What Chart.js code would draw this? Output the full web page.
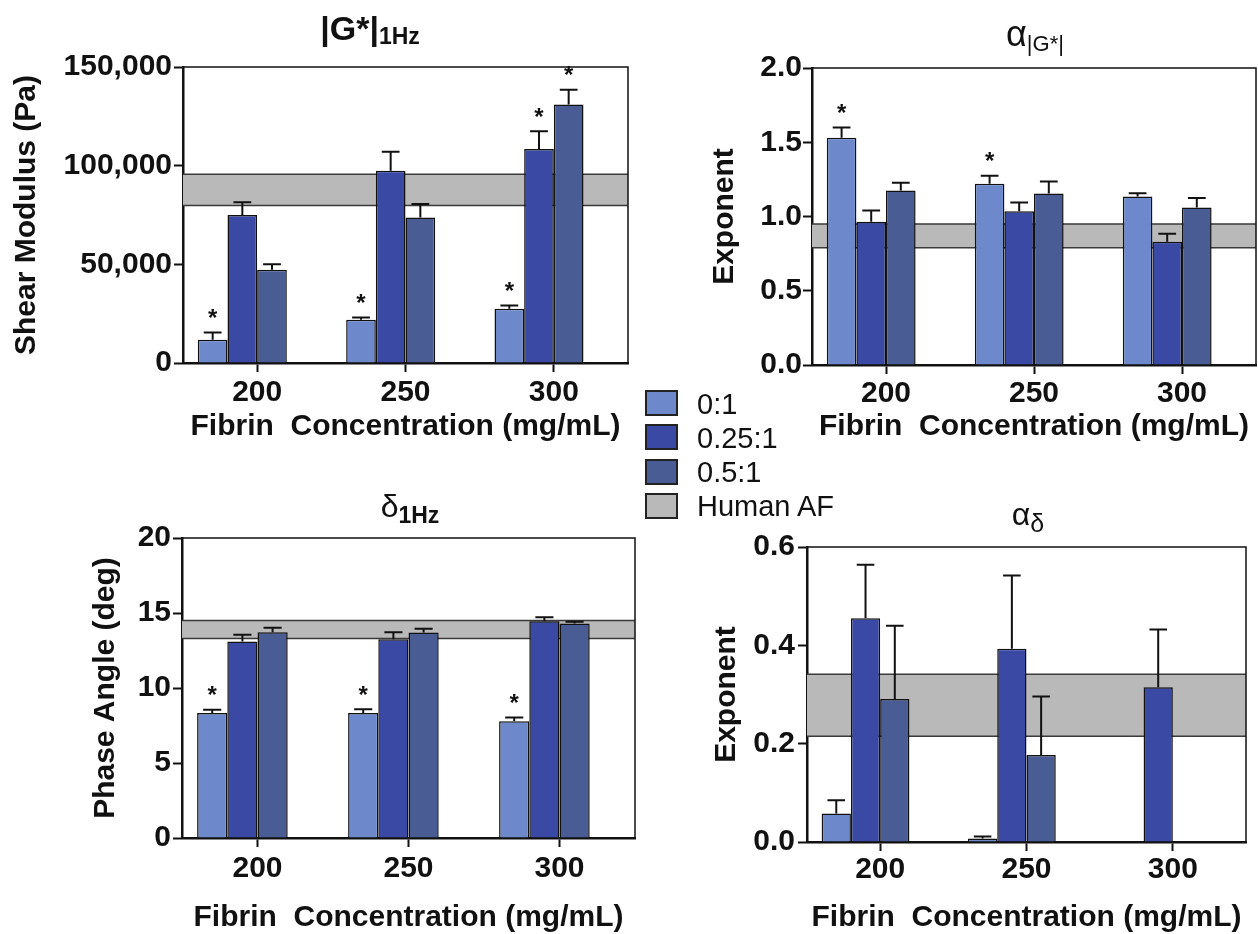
<!DOCTYPE html>
<html>
<head>
<meta charset="utf-8">
<title>Fibrin gels vs human AF</title>
<script src="https://cdn.jsdelivr.net/npm/chart.js@4.4.1/dist/chart.umd.min.js"></script>
<style>
  body { margin: 0; width: 1258px; height: 934px; position: relative; overflow: hidden; background: #fff;
         font-family: "Liberation Sans", Arial, Helvetica, sans-serif; color: #111; }
  canvas { position: absolute; }
  .ttl { position: absolute; width: 240px; text-align: center; line-height: 1; white-space: nowrap; }
  .ttl .sb { position: relative; }
  .sw { position: absolute; width: 29px; height: 22px; border: 2px solid #222; }
  .lt { position: absolute; font-size: 29px; line-height: 1; white-space: nowrap; }
</style>
</head>
<body>
<canvas id="cG" width="640" height="460" style="left:0;top:0"></canvas>
<canvas id="cA" width="618" height="460" style="left:640px;top:0"></canvas>
<canvas id="cD" width="640" height="474" style="left:0;top:460px"></canvas>
<canvas id="cAD" width="618" height="474" style="left:640px;top:460px"></canvas>

<div class="ttl" style="left:250px;top:11px;font-size:34px"><b>|G*|</b><b class="sb" style="top:4px;font-size:23px">1Hz</b></div>
<div class="ttl" style="left:915px;top:16px;font-size:36px">α<span class="sb" style="top:5px;font-size:22px">|G*|</span></div>
<div class="ttl" style="left:290px;top:490px;font-size:32px">δ<b class="sb" style="top:6px;font-size:23px">1Hz</b></div>
<div class="ttl" style="left:908px;top:498px;font-size:32px">α<span class="sb" style="top:7px;font-size:25px">δ</span></div>

<div id="legend"></div>

<script>
// ---- data ----
const categories = ['200', '250', '300'];
const seriesNames = ['0:1', '0.25:1', '0.5:1'];
const bandName = 'Human AF';
const xTitle = 'Fibrin  Concentration (mg/mL)';

// |G*| at 1 Hz, Pa
const gMean01 = [11800, 21900, 27500];
const gMean025 = [75000, 97400, 108400];
const gMean05 = [47200, 73700, 131000];
const gErr01 = [3700, 1200, 1700];
const gErr025 = [6400, 9600, 9100];
const gErr05 = [2900, 6900, 7500];
const gStar01 = [1, 1, 1];
const gStar025 = [0, 0, 1];
const gStar05 = [0, 0, 1];
const gBand = [79800, 95600];
const gAxis = [0, 150000, 50000];   // min, max, step

// alpha |G*| exponent
const aMean01 = [1.53, 1.22, 1.135];
const aMean025 = [0.965, 1.035, 0.83];
const aMean05 = [1.175, 1.155, 1.06];
const aErr01 = [0.07, 0.055, 0.022];
const aErr025 = [0.075, 0.06, 0.053];
const aErr05 = [0.052, 0.08, 0.065];
const aStar01 = [1, 1, 0];
const aStar025 = [0, 0, 0];
const aStar05 = [0, 0, 0];
const aBand = [0.79, 0.95];
const aAxis = [0, 2, 0.5];

// phase angle at 1 Hz, deg
const dMean01 = [8.33, 8.33, 7.78];
const dMean025 = [13.1, 13.25, 14.45];
const dMean05 = [13.72, 13.7, 14.3];
const dErr01 = [0.22, 0.25, 0.26];
const dErr025 = [0.45, 0.46, 0.27];
const dErr05 = [0.3, 0.25, 0.12];
const dStar01 = [1, 1, 1];
const dStar025 = [0, 0, 0];
const dStar05 = [0, 0, 0];
const dBand = [13.3, 14.5];
const dAxis = [0, 20, 5];

// alpha delta exponent
const adMean01 = [0.058, 0.007, 0];
const adMean025 = [0.455, 0.393, 0.315];
const adMean05 = [0.291, 0.177, 0];
const adErr01 = [0.027, 0.004, 0];
const adErr025 = [0.109, 0.149, 0.117];
const adErr05 = [0.149, 0.119, 0];
const adStar01 = [0, 0, 0];
const adStar025 = [0, 0, 0];
const adStar05 = [0, 0, 0];
const adBand = [0.215, 0.341];
const adAxis = [0, 0.6, 0.2];

// ---- style ----
const FONT = '"Liberation Sans", Arial, Helvetica, sans-serif';
const INK = '#111';
const barColors = ['#6d89cb', '#3a4aa4', '#4a5c94'];
const bandFill = '#b9b9b9';

// positions of each panel's plot box inside its canvas
const panels = [
  { id: 'cG', means: [gMean01, gMean025, gMean05], errs: [gErr01, gErr025, gErr05], stars: [gStar01, gStar025, gStar05],
    band: gBand, axis: gAxis, yTitle: 'Shear Modulus (Pa)', fmt: v => v.toLocaleString('en-US'),
    padTop: 67, padRight: 12, yW: 183, xH: 97, yTitlePad: 12, xTitlePad: 18, xTickPad: 3, yTickPad: 2 },
  { id: 'cA', means: [aMean01, aMean025, aMean05], errs: [aErr01, aErr025, aErr05], stars: [aStar01, aStar025, aStar05],
    band: aBand, axis: aAxis, yTitle: 'Exponent', fmt: v => v.toFixed(1),
    padTop: 68, padRight: 2, yW: 172, xH: 95, yTitlePad: 70, xTitlePad: 18, xTickPad: 2, yTickPad: 1 },
  { id: 'cD', means: [dMean01, dMean025, dMean05], errs: [dErr01, dErr025, dErr05], stars: [dStar01, dStar025, dStar05],
    band: dBand, axis: dAxis, yTitle: 'Phase Angle (deg)', fmt: v => String(v),
    padTop: 78, padRight: 5, yW: 182, xH: 96, yTitlePad: 91, xTitlePad: 1, xTickPad: 4, yTickPad: 2 },
  { id: 'cAD', means: [adMean01, adMean025, adMean05], errs: [adErr01, adErr025, adErr05], stars: [adStar01, adStar025, adStar05],
    band: adBand, axis: adAxis, yTitle: 'Exponent', fmt: v => v.toFixed(1),
    padTop: 87, padRight: 12, yW: 167, xH: 92, yTitlePad: 72, xTitlePad: 1, xTickPad: 1, yTickPad: 3 }
];

// band, error bars, asterisks and frame
function overlay(p) {
  return {
    id: 'overlay',
    beforeDatasetsDraw(chart) {
      const {ctx, chartArea: a} = chart;
      const y = chart.scales.y;
      const hi = y.getPixelForValue(p.band[1]);
      const lo = y.getPixelForValue(p.band[0]);
      ctx.save();
      ctx.fillStyle = bandFill;
      ctx.fillRect(a.left, hi, a.right - a.left, lo - hi);
      ctx.strokeStyle = '#3a3a3a';
      ctx.lineWidth = 1.5;
      ctx.beginPath();
      ctx.moveTo(a.left, hi); ctx.lineTo(a.right, hi);
      ctx.moveTo(a.left, lo); ctx.lineTo(a.right, lo);
      ctx.stroke();
      ctx.restore();
    },
    afterDatasetsDraw(chart) {
      const ctx = chart.ctx;
      const y = chart.scales.y;
      ctx.save();
      ctx.strokeStyle = INK;
      ctx.fillStyle = INK;
      ctx.lineWidth = 2;
      ctx.font = 'bold 24px ' + FONT;
      ctx.textAlign = 'center';
      ctx.textBaseline = 'middle';
      p.means.forEach((vals, i) => {
        chart.getDatasetMeta(i).data.forEach((bar, j) => {
          const err = p.errs[i][j];
          const top = y.getPixelForValue(vals[j] + err);
          if (err > 0) {
            const half = bar.width * 0.3;
            ctx.beginPath();
            ctx.moveTo(bar.x, bar.y); ctx.lineTo(bar.x, top);
            ctx.moveTo(bar.x - half, top); ctx.lineTo(bar.x + half, top);
            ctx.stroke();
          }
          if (p.stars[i][j]) ctx.fillText('*', bar.x, top - 13);
        });
      });
      ctx.restore();
    },
    afterDraw(chart) {
      const {ctx, chartArea: a} = chart;
      ctx.save();
      ctx.strokeStyle = INK;
      ctx.lineWidth = 1.5;
      ctx.beginPath();
      ctx.moveTo(a.left, a.top); ctx.lineTo(a.right, a.top); ctx.lineTo(a.right, a.bottom);
      ctx.stroke();
      ctx.restore();
    }
  };
}

function makeChart(p) {
  const datasets = p.means.map((vals, i) => ({
    label: seriesNames[i],
    data: vals,
    backgroundColor: barColors[i]
  }));
  // empty slot so every group sits left of its tick, as in the figure
  datasets.push({ label: '', data: categories.map(() => null) });

  new Chart(document.getElementById(p.id), {
    type: 'bar',
    data: { labels: categories, datasets },
    options: {
      responsive: false,
      animation: false,
      layout: { padding: { top: p.padTop, right: p.padRight, left: 0, bottom: 0 } },
      datasets: { bar: { categoryPercentage: 0.8, barPercentage: 1, borderWidth: 1.5, borderColor: INK } },
      plugins: { legend: { display: false }, tooltip: { enabled: false } },
      scales: {
        x: {
          offset: true,
          grid: { offset: false, drawOnChartArea: false, drawTicks: true, tickLength: 9, tickWidth: 2, tickColor: INK },
          border: { display: true, color: INK, width: 2.5 },
          ticks: { color: INK, padding: p.xTickPad, maxRotation: 0, font: { family: FONT, size: 30, weight: 'bold' } },
          title: { display: true, text: xTitle, color: INK, padding: { top: 0, bottom: p.xTitlePad },
                   font: { family: FONT, size: 30, weight: 'bold', lineHeight: 1 } },
          afterFit: s => { s.height = p.xH; }
        },
        y: {
          min: p.axis[0],
          max: p.axis[1],
          grid: { drawOnChartArea: false, drawTicks: true, tickLength: 9, tickWidth: 2, tickColor: INK },
          border: { display: true, color: INK, width: 2.5 },
          ticks: { stepSize: p.axis[2], color: INK, padding: p.yTickPad, callback: p.fmt,
                   font: { family: FONT, size: 30, weight: 'bold' } },
          title: { display: true, text: p.yTitle, color: INK, padding: { top: p.yTitlePad, bottom: 0 },
                   font: { family: FONT, size: 30, weight: 'bold', lineHeight: 1 } },
          afterFit: s => { s.width = p.yW; }
        }
      }
    },
    plugins: [overlay(p)]
  });
}

panels.forEach(makeChart);

// legend between the panels
const legend = document.getElementById('legend');
const legendItems = seriesNames.map((name, i) => ({ name, color: barColors[i] }))
  .concat([{ name: bandName, color: bandFill }]);
legendItems.forEach((item, i) => {
  const top = 390 + i * 34.3;
  const sw = document.createElement('div');
  sw.className = 'sw';
  sw.style.left = '645px';
  sw.style.top = top + 'px';
  sw.style.background = item.color;
  legend.appendChild(sw);
  const t = document.createElement('div');
  t.className = 'lt';
  t.style.left = '697px';
  t.style.top = (top - 0.5) + 'px';
  t.textContent = item.name;
  legend.appendChild(t);
});
</script>
</body>
</html>
